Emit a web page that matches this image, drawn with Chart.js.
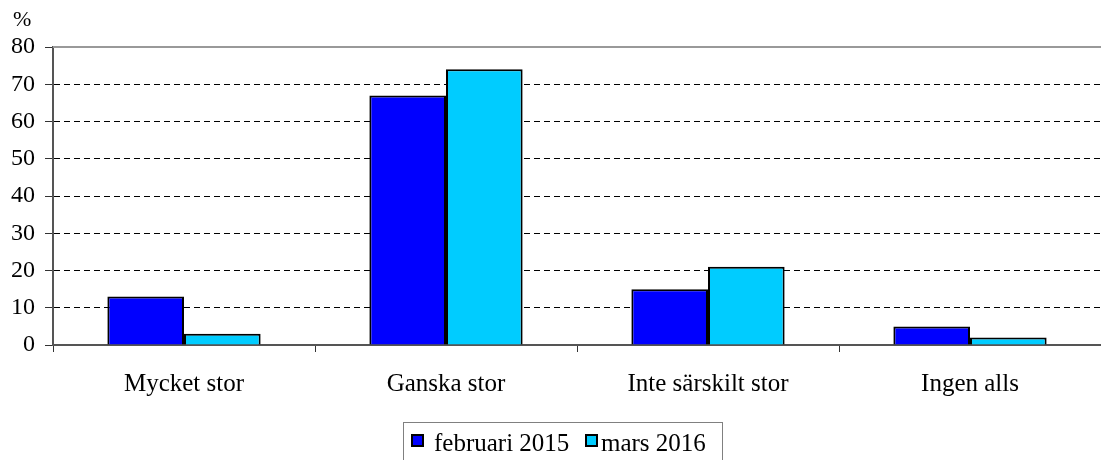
<!DOCTYPE html>
<html><head><meta charset="utf-8">
<script src="https://cdn.jsdelivr.net/npm/chart.js@4/dist/chart.umd.min.js"></script>
<style>html,body{margin:0;padding:0;background:#fff}#wrap{width:1101px;height:460px}</style>
</head><body><div id="wrap"><canvas id="c" width="1101" height="460"></canvas></div>
<script>
const categories = ["Mycket stor", "Ganska stor", "Inte särskilt stor", "Ingen alls"];
const seriesNames = ["februari 2015", "mars 2016"];
const feb2015 = [13, 67, 15, 5];
const mar2016 = [3, 74, 21, 2];
const yTicks = [0, 10, 20, 30, 40, 50, 60, 70, 80];
const unitLabel = "%";
const FONT = "'Liberation Serif', 'Times New Roman', serif";

const extras = {
  id: 'extras',
  afterDraw(chart) {
    const ctx = chart.ctx, y = chart.scales.y, x = chart.scales.x;
    ctx.save();
    // top border
    ctx.strokeStyle = '#999999'; ctx.lineWidth = 2;
    ctx.beginPath(); ctx.moveTo(x.left, y.getPixelForValue(80)); ctx.lineTo(x.right, y.getPixelForValue(80)); ctx.stroke();
    // unit label
    ctx.fillStyle = '#000'; ctx.font = '22px ' + FONT; ctx.textAlign = 'left'; ctx.textBaseline = 'middle';
    ctx.fillText(unitLabel, 13, 20);
    // legend
    const ds = chart.data.datasets;
    ctx.font = '25px ' + FONT;
    const lx = 403, ly = 422, lw = 319, lh = 42;
    ctx.strokeStyle = '#808080'; ctx.lineWidth = 1;
    ctx.strokeRect(lx + 0.5, ly + 0.5, lw, lh);
    const boxX = [412, 586];
    const textGap = [22, 15];
    ds.forEach((d, i) => {
      const bx = boxX[i];
      ctx.fillStyle = d.backgroundColor; ctx.fillRect(bx, 435, 11, 11);
      ctx.strokeStyle = '#000'; ctx.lineWidth = 2; ctx.strokeRect(bx, 435, 11, 11);
      ctx.fillStyle = '#000'; ctx.textBaseline = 'alphabetic';
      ctx.fillText(d.label, bx + textGap[i], 451);
    });
    ctx.restore();
  }
};

new Chart(document.getElementById('c'), {
  type: 'bar',
  data: {
    labels: categories,
    datasets: [
      { label: seriesNames[0], data: feb2015, backgroundColor: '#0000FF', borderColor: '#000', borderWidth: 2, borderSkipped: 'bottom' },
      { label: seriesNames[1], data: mar2016, backgroundColor: '#00CCFF', borderColor: '#000', borderWidth: 2, borderSkipped: 'bottom' }
    ]
  },
  options: {
    responsive: false, animation: false,
    layout: { padding: { top: 47, right: 0, left: 0, bottom: 0 } },
    categoryPercentage: 0.585, barPercentage: 1.0,
    plugins: { legend: { display: false }, tooltip: { enabled: false } },
    scales: {
      x: {
        grid: { display: true, drawOnChartArea: false, offset: true, tickLength: 7, color: '#333', lineWidth: 1 },
        border: { display: true, color: '#555', width: 2 },
        ticks: { color: '#000', font: { family: FONT, size: 25 }, padding: 17, maxRotation: 0 },
        afterFit(s) { s.height = 115; }
      },
      y: {
        min: 0, max: 80,
        afterBuildTicks(s) { s.ticks = yTicks.map(v => ({ value: v })); },
        grid: {
          color: (c) => (c.tick && (c.tick.value === 0 || c.tick.value === 80)) ? 'rgba(0,0,0,0)' : '#000',
          tickColor: '#333', tickLength: 8, lineWidth: 1, tickBorderDash: []
        },
        border: { display: true, color: '#555', width: 2, dash: [6, 4] },
        ticks: { color: '#000', font: { family: FONT, size: 24 }, padding: 10 },
        afterFit(s) { s.width = 53; }
      }
    }
  },
  plugins: [extras]
});
</script></body></html>
